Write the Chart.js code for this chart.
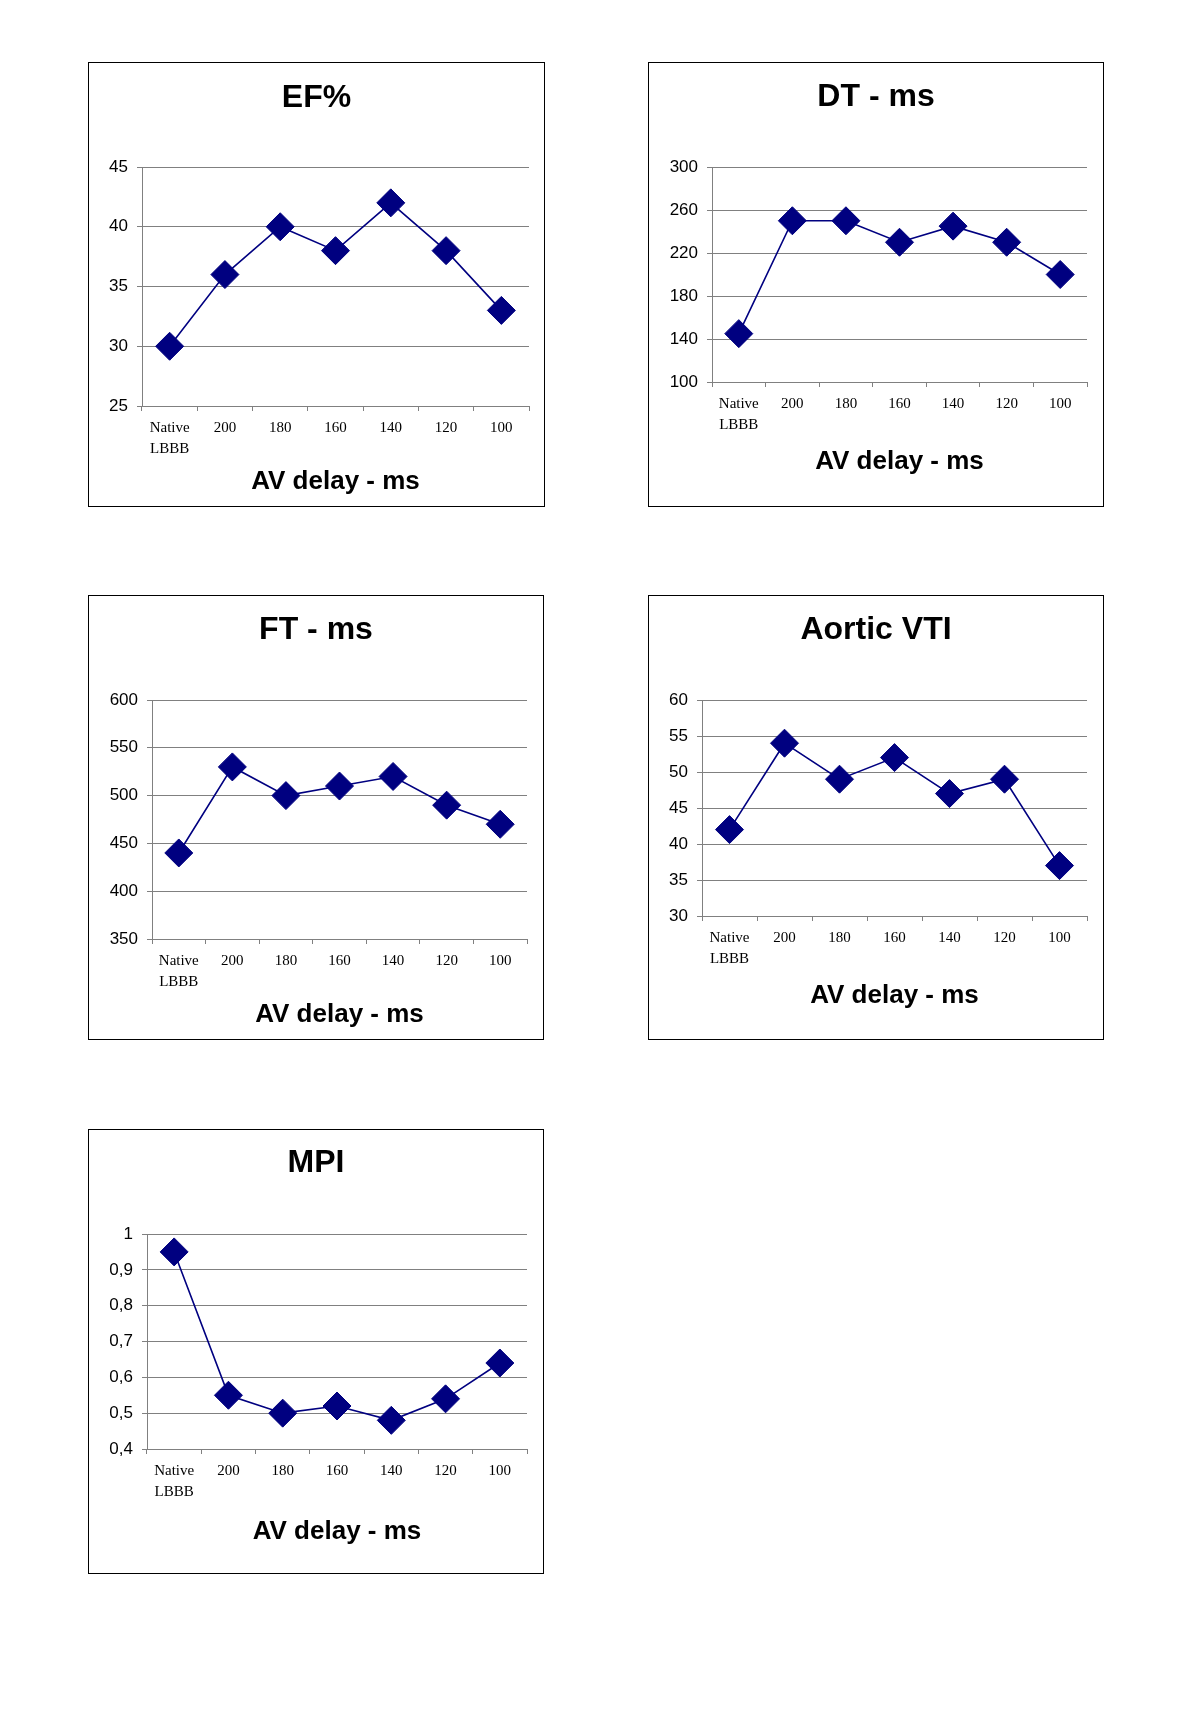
<!DOCTYPE html>
<html>
<head>
<meta charset="utf-8">
<script src="https://cdn.jsdelivr.net/npm/chart.js@4.4.0/dist/chart.umd.min.js"></script>
<style>
    body { margin: 0; background: #fff; width: 1200px; height: 1734px; position: relative; overflow: hidden; }
    .panel { position: absolute; border: 1px solid #000; box-sizing: border-box; background: #fff; }
    .panel canvas { display: block; }
</style>
</head>
<body>
<div class="panel" id="panel-ef"><canvas id="chart-ef"></canvas></div>
<div class="panel" id="panel-dt"><canvas id="chart-dt"></canvas></div>
<div class="panel" id="panel-ft"><canvas id="chart-ft"></canvas></div>
<div class="panel" id="panel-vti"><canvas id="chart-vti"></canvas></div>
<div class="panel" id="panel-mpi"><canvas id="chart-mpi"></canvas></div>

<script>
// --- Data ---
const avDelay = [['Native', 'LBBB'], '200', '180', '160', '140', '120', '100'];

const efValues  = [30, 36, 40, 38, 42, 38, 33];
const dtValues  = [145, 250, 250, 230, 245, 230, 200];
const ftValues  = [440, 530, 500, 510, 520, 490, 470];
const vtiValues = [42, 54, 49, 52, 47, 49, 37];
const mpiValues = [0.95, 0.55, 0.50, 0.52, 0.48, 0.54, 0.64];

const efTicks  = [25, 30, 35, 40, 45];
const dtTicks  = [100, 140, 180, 220, 260, 300];
const ftTicks  = [350, 400, 450, 500, 550, 600];
const vtiTicks = [30, 35, 40, 45, 50, 55, 60];
const mpiTicks = [0.4, 0.5, 0.6, 0.7, 0.8, 0.9, 1];

const axisTitle = 'AV delay - ms';

// --- Panel layout (page pixels) ---
const panels = [
    { key: 'ef',  title: 'EF%',        values: efValues,  ticks: efTicks,  box: [88, 62, 457, 445],   plot: [142, 167, 529, 406],   titleY: 98,   axisY: 482 },
    { key: 'dt',  title: 'DT - ms',    values: dtValues,  ticks: dtTicks,  box: [648, 62, 456, 445],  plot: [712, 167, 1087, 382],  titleY: 97,   axisY: 462 },
    { key: 'ft',  title: 'FT - ms',    values: ftValues,  ticks: ftTicks,  box: [88, 595, 456, 445],  plot: [152, 700, 527, 939],   titleY: 630,  axisY: 1015 },
    { key: 'vti', title: 'Aortic VTI', values: vtiValues, ticks: vtiTicks, box: [648, 595, 456, 445], plot: [702, 700, 1087, 916],  titleY: 630,  axisY: 996 },
    { key: 'mpi', title: 'MPI',        values: mpiValues, ticks: mpiTicks, box: [88, 1129, 456, 445], plot: [147, 1234, 527, 1449], titleY: 1163, axisY: 1532, comma: true }
];

Chart.defaults.font.family = "'Liberation Sans', Arial, sans-serif";
Chart.defaults.color = '#000';

const GRID = '#808080';
const NAVY = '#000080';

function buildPanel(p) {
    const [bx, by, bw, bh] = p.box;
    const panel = document.getElementById('panel-' + p.key);
    panel.style.left = bx + 'px';
    panel.style.top = by + 'px';
    panel.style.width = bw + 'px';
    panel.style.height = bh + 'px';

    const cx = bx + 1, cy = by + 1, cw = bw - 2, ch = bh - 2;
    const canvas = document.getElementById('chart-' + p.key);
    canvas.width = cw;
    canvas.height = ch;

    const left = p.plot[0] - cx, top = p.plot[1] - cy, right = p.plot[2] - cx, bottom = p.plot[3] - cy;
    // same padding on both sides keeps the chart title centred in the panel
    const side = cw - right;

    const titleSize = 32, titleLH = titleSize * 1.2;
    const titlePadTop = p.titleY - cy - titleLH / 2;
    const titlePadBottom = top - titlePadTop - titleLH;

    const axisSize = 26, axisLH = axisSize * 1.2;
    const axisPadBottom = ch - (p.axisY - cy) - axisLH / 2;

    const fmt = v => p.comma ? String(Number(v.toFixed(1))).replace('.', ',') : String(v);

    return new Chart(canvas.getContext('2d'), {
        type: 'line',
        data: {
            labels: avDelay,
            datasets: [{
                data: p.values,
                borderColor: NAVY,
                borderWidth: 1.6,
                tension: 0,
                fill: false,
                pointStyle: 'rectRot',
                pointRadius: 14,
                pointBackgroundColor: NAVY,
                pointBorderColor: NAVY,
                pointBorderWidth: 1,
                clip: false
            }]
        },
        options: {
            responsive: false,
            animation: false,
            devicePixelRatio: 1,
            layout: { padding: { top: 0, left: side, bottom: 0, right: side } },
            plugins: {
                legend: { display: false },
                tooltip: { enabled: false },
                title: {
                    display: true,
                    text: p.title,
                    color: '#000',
                    font: { size: titleSize, weight: 'bold', lineHeight: 1.2 },
                    padding: { top: titlePadTop, bottom: titlePadBottom }
                }
            },
            scales: {
                x: {
                    type: 'category',
                    offset: true,
                    grid: { display: true, drawOnChartArea: false, drawTicks: true, tickLength: 5, color: GRID, offset: true },
                    border: { display: true, color: GRID, width: 1 },
                    ticks: {
                        autoSkip: false,
                        maxRotation: 0,
                        padding: 7,
                        color: '#000',
                        font: { family: "'Liberation Serif', 'Times New Roman', serif", size: 15, lineHeight: 1.4 }
                    },
                    title: {
                        display: true,
                        text: axisTitle,
                        color: '#000',
                        font: { size: axisSize, weight: 'bold', lineHeight: 1.2 },
                        padding: { top: 0, bottom: axisPadBottom }
                    },
                    afterFit: scale => { scale.height = ch - bottom; }
                },
                y: {
                    min: p.ticks[0],
                    max: p.ticks[p.ticks.length - 1],
                    afterBuildTicks: scale => { scale.ticks = p.ticks.map(v => ({ value: v })); },
                    grid: { color: GRID, lineWidth: 1, tickLength: 5, drawTicks: true },
                    border: { display: true, color: GRID, width: 1 },
                    ticks: {
                        padding: 9,
                        color: '#000',
                        font: { size: 17 },
                        callback: v => fmt(v)
                    },
                    afterFit: scale => { scale.width = left - side; }
                }
            }
        }
    });
}

panels.forEach(buildPanel);
</script>
</body>
</html>
